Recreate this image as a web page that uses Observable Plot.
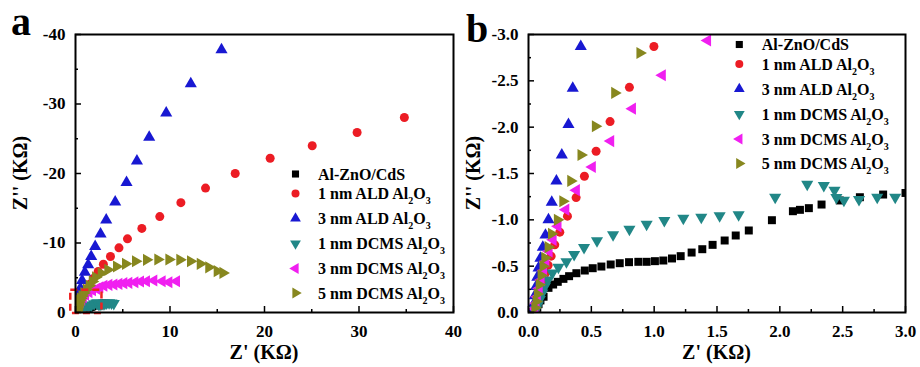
<!DOCTYPE html>
<html><head><meta charset="utf-8">
<script src="https://cdn.jsdelivr.net/npm/d3@7"></script>
<script src="https://cdn.jsdelivr.net/npm/@observablehq/plot@0.6"></script>
<style>
body{margin:0;background:#fff;}
#wrap{position:relative;width:920px;height:367px;overflow:hidden;}
.panel{position:absolute;top:0;}
</style>
</head><body><div id="wrap"></div>
<script>
// ---- data: [Z' (kΩ), Z'' (kΩ)] ----
const seriesNames = ["Al-ZnO/CdS", "1 nm ALD Al_2O_3", "3 nm ALD Al_2O_3", "1 nm DCMS Al_2O_3", "3 nm DCMS Al_2O_3", "5 nm DCMS Al_2O_3"];
const seriesColors = ["#000000", "#ec1c24", "#1818d2", "#218787", "#f01ff0", "#87871f"];
const seriesSymbols = ["square", "circle", "up", "down", "left", "right"];

const bare = [[0.06,-0.02],[0.07,-0.05],[0.08,-0.09],[0.095,-0.13],[0.12,-0.17],[0.159,-0.266],[0.196,-0.302],[0.233,-0.331],[0.278,-0.363],[0.323,-0.392],[0.381,-0.424],[0.448,-0.453],[0.511,-0.478],[0.58,-0.496],[0.654,-0.518],[0.726,-0.532],[0.80,-0.543],[0.874,-0.547],[0.94,-0.547],[1.006,-0.554],[1.073,-0.561],[1.142,-0.583],[1.211,-0.608],[1.298,-0.647],[1.383,-0.683],[1.465,-0.73],[1.561,-0.777],[1.649,-0.831],[1.753,-0.885],[1.937,-0.996],[2.104,-1.093],[2.16,-1.108],[2.231,-1.126],[2.332,-1.165],[2.477,-1.209],[2.637,-1.244],[2.822,-1.273],[3.0,-1.29],[3.2,-1.3]];
const ald1 = [[0.055,-0.03],[0.065,-0.07],[0.075,-0.13],[0.09,-0.2],[0.105,-0.28],[0.12,-0.35],[0.135,-0.425],[0.156,-0.51],[0.18,-0.608],[0.209,-0.73],[0.249,-0.867],[0.31,-1.04],[0.379,-1.24],[0.445,-1.47],[0.538,-1.74],[0.649,-2.06],[0.803,-2.43],[0.998,-2.87],[1.25,-3.45],[1.55,-4.1],[1.9,-4.9],[2.4,-5.9],[2.95,-6.95],[3.7,-8.06],[4.6,-9.3],[5.5,-10.6],[7.02,-12.1],[8.92,-13.8],[11.15,-15.8],[13.76,-17.9],[16.9,-20.0],[20.6,-22.2],[25.05,-24.0],[29.8,-25.9],[34.8,-28.06]];
const ald3 = [[0.04,-0.04],[0.045,-0.1],[0.05,-0.18],[0.06,-0.28],[0.07,-0.38],[0.08,-0.48],[0.095,-0.586],[0.114,-0.705],[0.135,-0.835],[0.159,-1.0],[0.185,-1.19],[0.222,-1.42],[0.265,-1.70],[0.318,-2.03],[0.352,-2.42],[0.416,-2.87],[0.52,-3.5],[0.7,-4.6],[0.99,-5.8],[1.34,-6.86],[1.66,-8.06],[2.08,-9.5],[2.65,-11.3],[3.25,-13.3],[4.2,-15.9],[5.4,-18.7],[6.5,-21.8],[7.8,-25.2],[9.6,-28.7],[12.2,-32.9],[15.45,-37.8]];
const dcms1 = [[0.06,-0.03],[0.075,-0.08],[0.09,-0.14],[0.11,-0.21],[0.13,-0.28],[0.155,-0.35],[0.19,-0.425],[0.238,-0.489],[0.302,-0.547],[0.363,-0.626],[0.442,-0.701],[0.545,-0.773],[0.673,-0.838],[0.803,-0.899],[0.94,-0.953],[1.081,-0.993],[1.232,-1.018],[1.375,-1.028],[1.521,-1.043],[1.672,-1.054],[1.963,-1.244],[2.218,-1.385],[2.35,-1.37],[2.435,-1.32],[2.45,-1.24],[2.51,-1.21],[2.63,-1.22],[2.775,-1.244],[2.918,-1.244],[3.1,-1.3],[3.3,-1.35],[3.55,-1.4],[3.8,-1.38],[4.05,-1.3]];
const dcms3 = [[0.05,-0.04],[0.06,-0.1],[0.07,-0.17],[0.085,-0.26],[0.1,-0.35],[0.12,-0.45],[0.138,-0.55],[0.164,-0.66],[0.196,-0.784],[0.235,-0.93],[0.297,-1.11],[0.381,-1.32],[0.508,-1.57],[0.654,-1.85],[0.827,-2.2],[1.065,-2.56],[1.425,-2.935],[1.8,-3.2],[2.22,-3.41],[2.57,-3.64],[3.0,-3.84],[3.53,-3.98],[4.06,-4.03],[4.59,-4.12],[5.11,-4.22],[5.64,-4.27],[6.28,-4.36],[6.88,-4.46],[7.51,-4.5],[8.29,-4.6],[9.17,-4.5],[9.88,-4.36],[10.69,-4.5]];
const dcms5 = [[0.05,-0.05],[0.06,-0.12],[0.07,-0.2],[0.085,-0.3],[0.1,-0.4],[0.115,-0.5],[0.13,-0.59],[0.156,-0.705],[0.183,-0.85],[0.23,-1.0],[0.273,-1.20],[0.336,-1.42],[0.418,-1.70],[0.532,-2.01],[0.686,-2.37],[0.887,-2.80],[1.15,-3.3],[1.45,-3.85],[1.78,-4.45],[2.12,-5.08],[2.72,-5.65],[3.42,-6.14],[4.34,-6.62],[5.29,-7.0],[6.35,-7.38],[7.51,-7.58],[8.71,-7.63],[9.88,-7.63],[11.04,-7.58],[12.17,-7.38],[13.2,-7.0],[14.1,-6.5],[14.99,-5.95],[15.6,-5.7]];
const seriesData = [bare, ald1, ald3, dcms1, dcms3, dcms5];

// axes
const aXTicks = [0, 10, 20, 30, 40], aXMinor = [5, 15, 25, 35];
const aYTicks = [0, -10, -20, -30, -40], aYMinor = [-5, -15, -25, -35];
const bXTicks = [0, 0.5, 1.0, 1.5, 2.0, 2.5, 3.0], bXMinor = [0.25, 0.75, 1.25, 1.75, 2.25, 2.75];
const bYTicks = [0, -0.5, -1.0, -1.5, -2.0, -2.5, -3.0], bYMinor = [-0.25, -0.75, -1.25, -1.75, -2.25, -2.75];
const zoomBox = [{x1: -0.5, x2: 2.8, y1: 0.15, y2: -3.2}];
const xTitle = "Z' (K\u03A9)", yTitle = "Z'' (K\u03A9)";

// ---- symbols ----
function triSym(deg) {
  return {draw(ctx, size) {
    const y = -Math.sqrt(size / (Math.sqrt(3) * 3));
    const pts = [[0, y * 2], [-Math.sqrt(3) * y, -y], [Math.sqrt(3) * y, -y]];
    const a = deg * Math.PI / 180, c = Math.cos(a), s = Math.sin(a);
    pts.forEach(([px, py], i) => {
      const X = px * c - py * s, Y = px * s + py * c;
      i ? ctx.lineTo(X, Y) : ctx.moveTo(X, Y);
    });
    ctx.closePath();
  }};
}
const symMap = {square: d3.symbolSquare, circle: d3.symbolCircle, up: triSym(0), down: triSym(180), left: triSym(-90), right: triSym(90)};

const FONT = "'Liberation Serif', 'Times New Roman', serif";

function makePanel(o) {
  const marks = [];
  seriesData.forEach((data, i) => {
    marks.push(Plot.dot(data, {x: d => d[0], y: d => d[1], symbol: symMap[seriesSymbols[i]], fill: seriesColors[i], stroke: "none", r: 4.5, clip: true}));
  });
  if (o.box) marks.push(Plot.rect(o.box, {x1: "x1", x2: "x2", y1: "y1", y2: "y2", fill: "none", stroke: "#ee2222", strokeWidth: 2.5, strokeDasharray: "7,4"}));
  marks.push(
    Plot.axisX({ticks: o.xMinor, tickSize: -3, tickFormat: () => "", strokeWidth: 1.5, label: null}),
    Plot.axisY({ticks: o.yMinor, tickSize: -3, tickFormat: () => "", strokeWidth: 1.5, label: null}),
    Plot.axisX({ticks: o.xTicks, tickSize: -6, tickPadding: 18, tickFormat: o.fmt, strokeWidth: 1.5, fontSize: 17, fontWeight: "bold", label: null}),
    Plot.axisY({ticks: o.yTicks, tickSize: -6, tickPadding: 16, tickFormat: o.fmt, strokeWidth: 1.5, fontSize: 17, fontWeight: "bold", label: null}),
    Plot.frame({stroke: "black", strokeWidth: 2})
  );
  const svg = Plot.plot({
    width: 460, height: 367,
    marginLeft: o.ml, marginRight: o.mr, marginTop: 34, marginBottom: 55,
    x: {domain: o.xDomain, axis: null},
    y: {domain: o.yDomain, axis: null},
    style: {fontFamily: FONT, background: "transparent", overflow: "visible", color: "black"},
    marks
  });
  const s = d3.select(svg);
  const W = 460, left = o.ml, right = W - o.mr;
  s.append("text").attr("x", (left + right) / 2).attr("y", 359).attr("text-anchor", "middle")
    .attr("font-size", 20).attr("font-weight", "bold").attr("font-family", FONT).attr("fill", "black").text(xTitle);
  s.append("text").attr("transform", `translate(${left - 48},173) rotate(-90)`).attr("text-anchor", "middle")
    .attr("font-size", 20).attr("font-weight", "bold").attr("font-family", FONT).attr("fill", "black").text(yTitle);
  s.append("text").attr("x", o.letterX).attr("y", o.letterY).attr("text-anchor", "start").attr("font-size", 40).attr("font-weight", "bold")
    .attr("font-family", FONT).attr("fill", "black").text(o.letter);
  // legend
  const rowOff = [0, 19.5, 44.5, 69.5, 94.5, 119];
  const g = s.append("g").attr("font-family", FONT).attr("font-weight", "bold").attr("fill", "black").attr("text-anchor", "start");
  seriesNames.forEach((name, i) => {
    const y = o.legY + rowOff[i];
    g.append("path").attr("d", d3.symbol(symMap[seriesSymbols[i]], Math.PI * 4 * 4)())
      .attr("transform", `translate(${o.legX},${y})`).attr("fill", seriesColors[i]);
    const t = g.append("text").attr("x", o.legX + 22.5).attr("y", y + 5.5).attr("font-size", 16).attr("text-anchor", "start");
    const parts = name.split(/_(\d)/);
    parts.forEach((p, k) => {
      if (k % 2 === 0) { if (p) t.append("tspan").attr("dy", k ? -5 : 0).text(p); }
      else t.append("tspan").attr("font-size", 10).attr("dy", k > 1 && parts[k-1] === "" ? 0 : 5).text(p);
    });
  });
  return svg;
}

const wrap = document.getElementById("wrap");
const pa = makePanel({xDomain: [0, 40], yDomain: [0, -40], xTicks: aXTicks, xMinor: aXMinor, yTicks: aYTicks, yMinor: aYMinor,
  fmt: d => d === 0 ? "0" : String(d), ml: 75, mr: 7, box: zoomBox, letter: "a", letterX: 11, letterY: 35, legX: 295.5, legY: 174});
const pb = makePanel({xDomain: [0, 3], yDomain: [0, -3], xTicks: bXTicks, xMinor: bXMinor, yTicks: bYTicks, yMinor: bYMinor,
  fmt: d => d.toFixed(1), ml: 68, mr: 15, letter: "b", letterX: 6, letterY: 42, legX: 279.3, legY: 44.5});
pa.classList.add("panel"); pa.style.left = "0px";
pb.classList.add("panel"); pb.style.left = "460px";
wrap.appendChild(pa); wrap.appendChild(pb);
</script></body></html>
